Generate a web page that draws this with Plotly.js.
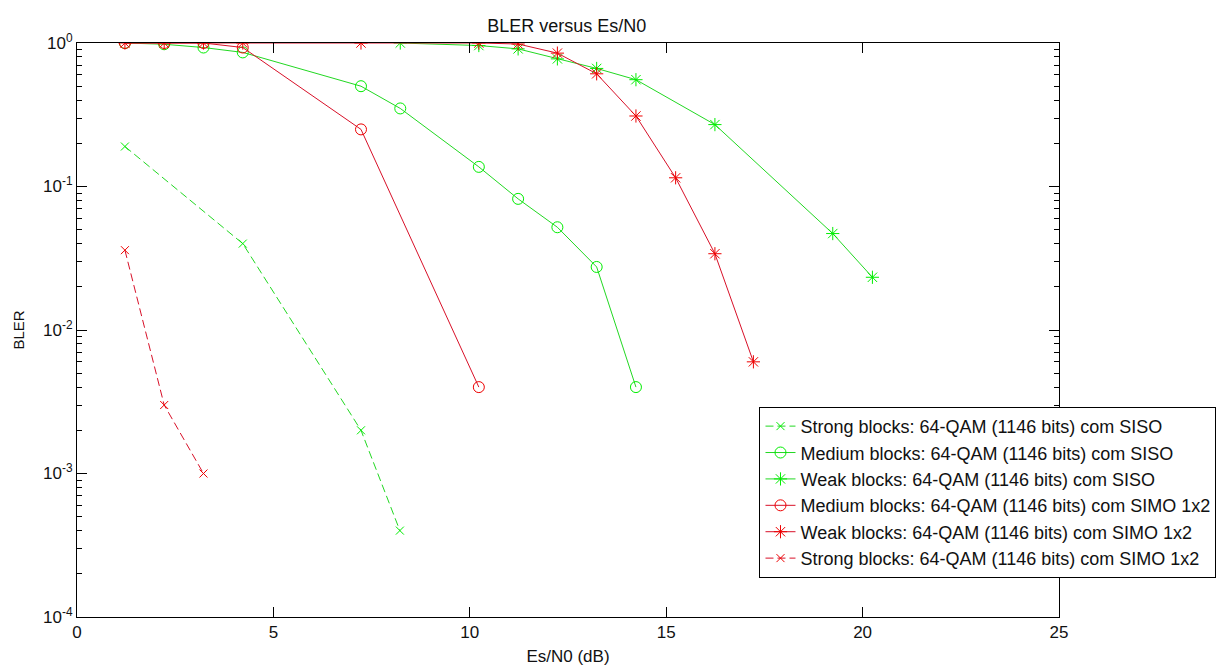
<!DOCTYPE html>
<html>
<head>
<meta charset="utf-8">
<script src="https://cdn.plot.ly/plotly-3.0.1.min.js"></script>
<style>html,body{margin:0;padding:0;background:#fff;}#chart{width:1223px;height:668px;}</style>
</head>
<body>
<div id="chart"></div>
<script>
// ---- data ----
const strongSisoX = [1.22, 4.22, 7.23, 8.22];
const strongSisoY = [0.19, 0.04, 0.002, 0.0004];

const mediumSisoX = [1.22, 2.22, 3.22, 4.22, 7.23, 8.23, 10.23, 11.23, 12.23, 13.23, 14.23];
const mediumSisoY = [1.0, 0.98, 0.93, 0.86, 0.5, 0.35, 0.137, 0.082, 0.052, 0.0275, 0.004];

const weakSisoX = [8.23, 10.23, 11.23, 12.23, 13.23, 14.23, 16.24, 19.24, 20.25];
const weakSisoY = [1.0, 0.96, 0.91, 0.775, 0.665, 0.555, 0.27, 0.047, 0.0233];

const mediumSimoX = [1.22, 2.22, 3.22, 4.22, 7.23, 10.23];
const mediumSimoY = [1.0, 1.0, 1.0, 0.93, 0.25, 0.004];

const weakSimoX = [1.22, 2.22, 3.22, 4.22, 7.23, 10.23, 11.23, 12.23, 13.23, 14.23, 15.24, 16.24, 17.22];
const weakSimoY = [1.0, 1.0, 1.0, 1.0, 1.0, 1.0, 0.984, 0.85, 0.61, 0.31, 0.115, 0.034, 0.006];

const strongSimoX = [1.22, 2.22, 3.22];
const strongSimoY = [0.036, 0.003, 0.001];

const seriesNames = [
  "Strong blocks: 64-QAM (1146 bits) com SISO",
  "Medium blocks: 64-QAM (1146 bits) com SISO",
  "Weak blocks: 64-QAM (1146 bits) com SISO",
  "Medium blocks: 64-QAM (1146 bits) com SIMO 1x2",
  "Weak blocks: 64-QAM (1146 bits) com SIMO 1x2",
  "Strong blocks: 64-QAM (1146 bits) com SIMO 1x2"
];

const xTickVals = [0, 5, 10, 15, 20, 25];
const yTickExps = [-4, -3, -2, -1, 0];

// ---- styles ----
const GREEN_LINE = '#22d822', GREEN_MK = '#00ee00';
const RED_LINE = '#d81028', RED_MK = '#ee0000';
const DASH = '8px,4px';

function tr(x, y, name, lineColor, mkColor, dash, symbol, size) {
  return {
    x: x, y: y, name: name, type: 'scatter', mode: 'lines+markers',
    line: {color: lineColor, width: 1, dash: dash},
    marker: {symbol: symbol, size: size, color: mkColor, line: {color: mkColor, width: 1}}
  };
}

const data = [
  tr(strongSisoX, strongSisoY, seriesNames[0], GREEN_LINE, GREEN_MK, DASH, 'x-thin-open', 8),
  tr(mediumSisoX, mediumSisoY, seriesNames[1], GREEN_LINE, GREEN_MK, 'solid', 'circle-open', 11),
  tr(weakSisoX, weakSisoY, seriesNames[2], GREEN_LINE, GREEN_MK, 'solid', 'asterisk-open', 11),
  tr(mediumSimoX, mediumSimoY, seriesNames[3], RED_LINE, RED_MK, 'solid', 'circle-open', 11),
  tr(weakSimoX, weakSimoY, seriesNames[4], RED_LINE, RED_MK, 'solid', 'asterisk-open', 11),
  tr(strongSimoX, strongSimoY, seriesNames[5], RED_LINE, RED_MK, DASH, 'x-thin-open', 8)
];

const minorY = [];
for (let e = -4; e < 0; e++) for (let m = 2; m <= 9; m++) minorY.push(m * Math.pow(10, e));

const FONT = 'Liberation Sans, Arial, sans-serif';

const layout = {
  width: 1223, height: 668,
  paper_bgcolor: '#fff', plot_bgcolor: '#fff',
  margin: {l: 77, r: 164, t: 43, b: 51, pad: 0, autoexpand: false},
  font: {family: FONT, color: '#111', size: 16},
  title: {text: 'BLER versus Es/N0', font: {size: 18, color: '#111'},
          x: 0.4635, xanchor: 'center', y: 0.962, yanchor: 'middle', yref: 'container'},
  showlegend: true,
  legend: {x: 0.695, xanchor: 'left', y: 0.366, yanchor: 'top',
           bgcolor: '#fff', bordercolor: '#000', borderwidth: 1,
           font: {size: 18, color: '#111'}, tracegroupgap: 0},
  xaxis: {
    range: [0, 25], tickmode: 'array', tickvals: xTickVals,
    ticks: 'inside', ticklen: 10, tickwidth: 1, tickcolor: '#000',
    showline: true, linecolor: '#000', linewidth: 1, mirror: 'ticks',
    showgrid: false, zeroline: false,
    tickfont: {size: 17, color: '#111'},
    title: {text: 'Es/N0 (dB)', font: {size: 17, color: '#111'}, standoff: 8}
  },
  yaxis: {
    type: 'log', range: [-4, 0], tickmode: 'array',
    tickvals: yTickExps.map(e => Math.pow(10, e)),
    ticktext: yTickExps.map(e => '10<sup>' + e + '</sup>'),
    ticks: 'inside', ticklen: 10, tickwidth: 1, tickcolor: '#000',
    minor: {tickmode: 'array', tickvals: minorY, ticks: 'inside', ticklen: 5, tickcolor: '#000', tickwidth: 1, showgrid: false},
    showline: true, linecolor: '#000', linewidth: 1, mirror: 'ticks',
    showgrid: false, zeroline: false,
    tickfont: {size: 17, color: '#111'},
    title: {text: 'BLER', font: {size: 15, color: '#111'}, standoff: 14}
  }
};

Plotly.newPlot('chart', data, layout, {displayModeBar: false, staticPlot: true});
</script>
</body>
</html>
